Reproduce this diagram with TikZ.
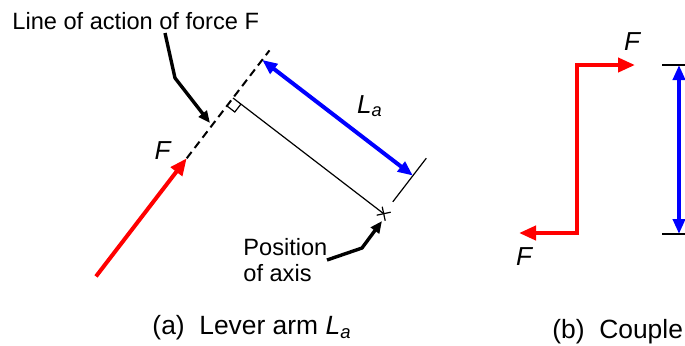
\documentclass[tikz,border=0pt]{standalone}
\usepackage{fontspec}
\setmainfont{Liberation Sans}
\usetikzlibrary{arrows.meta}

\begin{document}
\begin{tikzpicture}[x=0.5pt,y=-0.5pt,
  force/.style={draw=red,line width=2pt,-{Triangle[length=8.5pt,width=7pt]}},
  couple/.style={draw=red,line width=2pt,{Triangle[length=8.5pt,width=7pt]}-{Triangle[length=8.5pt,width=7pt]}},
  armlen/.style={draw=blue,line width=2pt,{Triangle[length=7.5pt,width=6pt]}-{Triangle[length=7.5pt,width=6pt]}},
  guide/.style={line width=0.6pt},
  pointer/.style={line width=1.7pt,-{Triangle[length=6pt,width=5pt]}},
  lbl/.style={inner sep=0pt,font=\fontsize{11.8}{13}\selectfont},
  captxt/.style={inner sep=0pt,font=\fontsize{13.2}{15}\selectfont},
  sym/.style={inner sep=0pt,font=\fontsize{13}{15}\selectfont\itshape}
]
\useasboundingbox (0,0) rectangle (685,345);

% (a) lever arm
\coordinate (foot)  at (233,98);
\coordinate (axis)  at (383.7,213.7);
\coordinate (dtop)  at (269.5,50.4);
\coordinate (ftip)  at (186.7,158.3);
\coordinate (ftail) at (96,276.4);
\coordinate (armA)  at (262.2,59.9);
\coordinate (armB)  at (412.9,175.6);
\coordinate (extA)  at (392.8,201.8);
\coordinate (extB)  at (426.3,158.2);

\draw[force] (ftail) -- (ftip);
\draw[line width=1pt,dash pattern=on 4pt off 2.5pt] (ftip) -- (dtop);
\draw[guide] (foot) -- (axis);
\draw[guide] (226.9,105.9) -- (234.8,112.0) -- (240.9,104.1);
\draw[guide] (extA) -- (extB);
\draw[guide] (axis) ++(-7,1.5) -- ++(14,-3) (axis) ++(-1.5,-7) -- ++(3,14);
\draw[armlen] (armA) -- (armB);

\node[sym] (flbl) at (162.5,151) {F};
\node[sym] (lalbl) at (370,106) {L\textsubscript{a}};

\node[lbl,anchor=base west] (loatext) at (12,29.3) {Line of action of force F};
\coordinate (loastart) at (165,33);
\coordinate (loabend)  at (175,78);
\coordinate (loatip)   at (210,123);
\draw[pointer] (loastart) -- (loabend) -- (loatip);

\node[lbl,anchor=north west,align=left] (axistext) at (243,238) {Position\\of axis};
\coordinate (axstart) at (327,260);
\coordinate (axbend)  at (362,248);
\coordinate (axtip)   at (382,221);
\draw[pointer] (axstart) -- (axbend) -- (axtip);

\node[captxt,anchor=base] (capa) at (252,334.5) {(a)~~Lever arm \textit{L}\textsubscript{\textit{a}}};

% (b) couple
\coordinate (ctopc) at (577,65);
\coordinate (ctipr) at (635,65);
\coordinate (cbotc) at (577,233);
\coordinate (ctipl) at (519,233);
\draw[couple] (ctipl) -- (cbotc) -- (ctopc) -- (ctipr);
\node[sym] (ftop) at (632,42) {F};
\node[sym] (fbot) at (524,257) {F};

\coordinate (cpA) at (679,65);
\coordinate (cpB) at (679,234);
\draw[guide] (cpA) ++(-17,0) -- ++(30,0);
\draw[guide] (cpB) ++(-17,0) -- ++(30,0);
\draw[armlen] (cpA) -- (cpB);

\node[captxt,anchor=base west] (capb) at (552,338) {(b)~~Couple};
\end{tikzpicture}
\end{document}
